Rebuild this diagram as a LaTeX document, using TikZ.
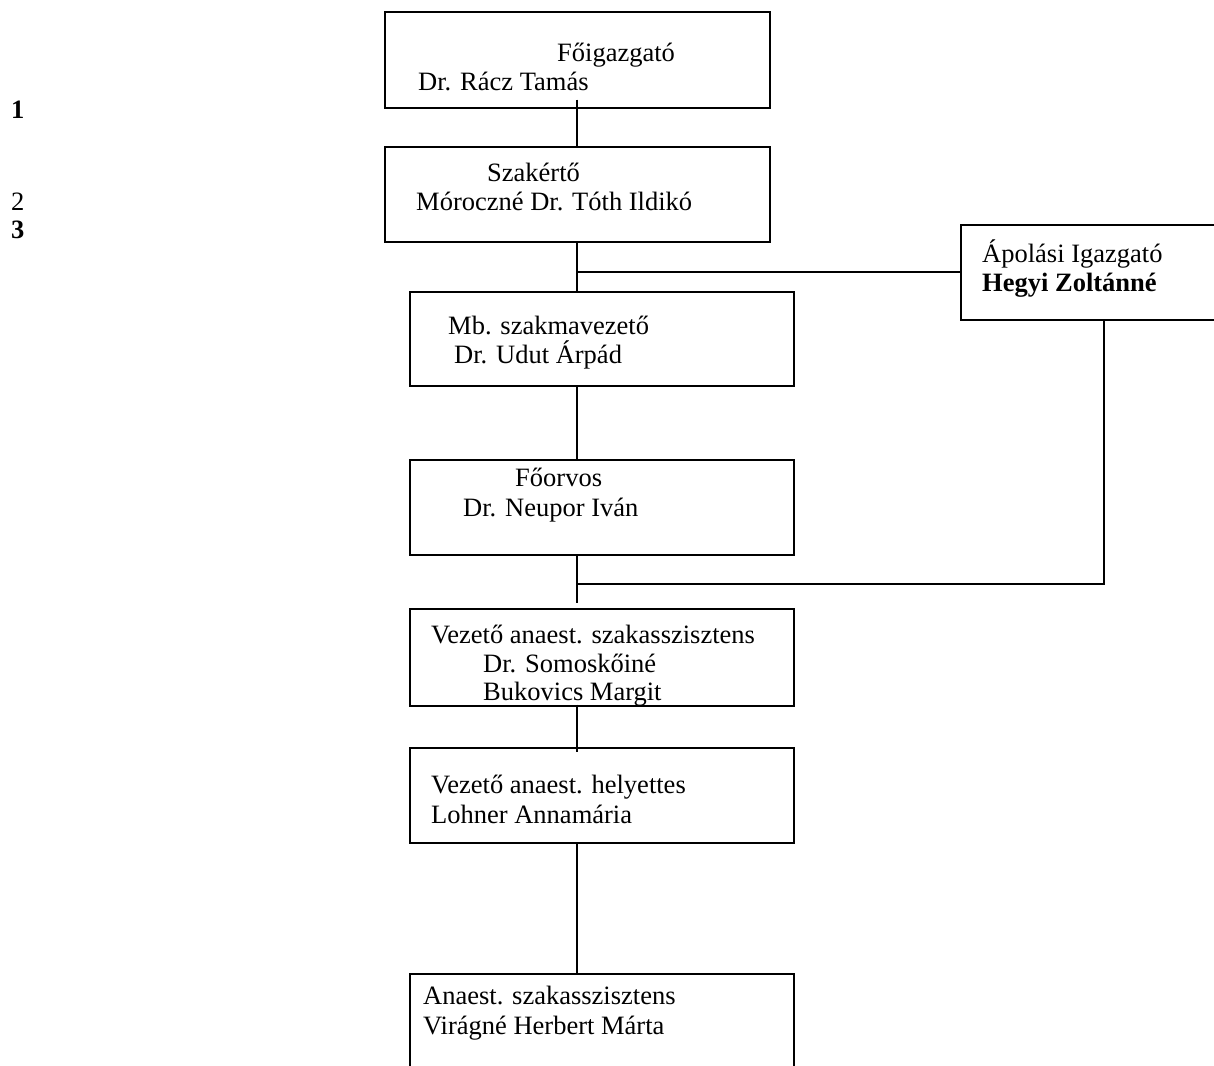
\documentclass[tikz,border=0pt]{standalone}
\usepackage{fontspec}
\setmainfont{Liberation Serif}
\begin{document}
\begin{tikzpicture}[x=1pt,y=-1pt,
  box/.style={draw=black,line width=1.6pt,rectangle,inner sep=0pt,anchor=north west},
  txt/.style={inner sep=0pt,anchor=base west,font=\fontsize{26.5}{29}\selectfont},
  link/.style={draw=black,line width=1.6pt}]
\clip (0,0) rectangle (1214,1065);
\fill[white] (0,0) rectangle (1214,1065);
% boxes
\node[box,minimum width=385pt,minimum height=96pt] (b1) at (384,11) {};
\node[box,minimum width=385pt,minimum height=95pt] (b2) at (384,146) {};
\node[box,minimum width=384pt,minimum height=94pt] (b3) at (409,291) {};
\node[box,minimum width=384pt,minimum height=95pt] (b4) at (409,459) {};
\node[box,minimum width=384pt,minimum height=97pt] (b6) at (409,608) {};
\node[box,minimum width=384pt,minimum height=95pt] (b7) at (409,747) {};
\node[box,minimum width=384pt,minimum height=140pt] (b8) at (409,973) {};
\node[box,minimum width=300pt,minimum height=95pt] (ap) at (960,224) {};
% texts
\node[txt] (t1a) at (557,62) {Főigazgató};
\node[txt] (t1b) at (418,90) {Dr. Rácz Tamás};
\node[txt] (t2a) at (487,181) {Szakértő};
\node[txt] (t2b) at (416,210) {Móroczné Dr. Tóth Ildikó};
\node[txt] (t3a) at (448,334) {Mb. szakmavezető};
\node[txt] (t3b) at (454,363) {Dr. Udut Árpád};
\node[txt] (t4a) at (515,486) {Főorvos};
\node[txt] (t4b) at (463,516) {Dr. Neupor Iván};
\node[txt] (t6a) at (431,643) {Vezető anaest. szakasszisztens};
\node[txt] (t6b) at (483,672) {Dr. Somoskőiné};
\node[txt] (t6c) at (483,700) {Bukovics Margit};
\node[txt] (t7a) at (431,793) {Vezető anaest. helyettes};
\node[txt] (t7b) at (431,823) {Lohner Annamária};
\node[txt] (t8a) at (423,1004) {Anaest. szakasszisztens};
\node[txt] (t8b) at (423,1034) {Virágné Herbert Márta};
\node[txt] (tapa) at (982,262) {Ápolási Igazgató};
\node[txt,font=\fontsize{26.5}{29}\selectfont\bfseries] (tapb) at (982,291) {Hegyi Zoltánné};
\node[txt,font=\fontsize{26.5}{29}\selectfont\bfseries] (n1) at (11,118) {1};
\node[txt] (n2) at (11,210) {2};
\node[txt,font=\fontsize{26.5}{29}\selectfont\bfseries] (n3) at (11,238) {3};
% connectors
\coordinate (sp) at (577,0);
\coordinate (j1) at (577,272);
\coordinate (j2) at (577,584);
\coordinate (k) at (1104,584);
\draw[link] ([yshift=9pt]sp |- b1.south) -- (sp |- b2.north);
\draw[link] (sp |- b2.south) -- (sp |- b3.north);
\draw[link] (j1) -- (j1 -| ap.west);
\draw[link] (sp |- b3.south) -- (sp |- b4.north);
\draw[link] (sp |- b4.south) -- ([yshift=5pt]sp |- b6.north);
\draw[link] (j2) -- (k) -- (k |- ap.south);
\draw[link] ([yshift=2pt]sp |- b6.south) -- ([yshift=-5pt]sp |- b7.north);
\draw[link] (sp |- b7.south) -- (sp |- b8.north);
\end{tikzpicture}
\end{document}
